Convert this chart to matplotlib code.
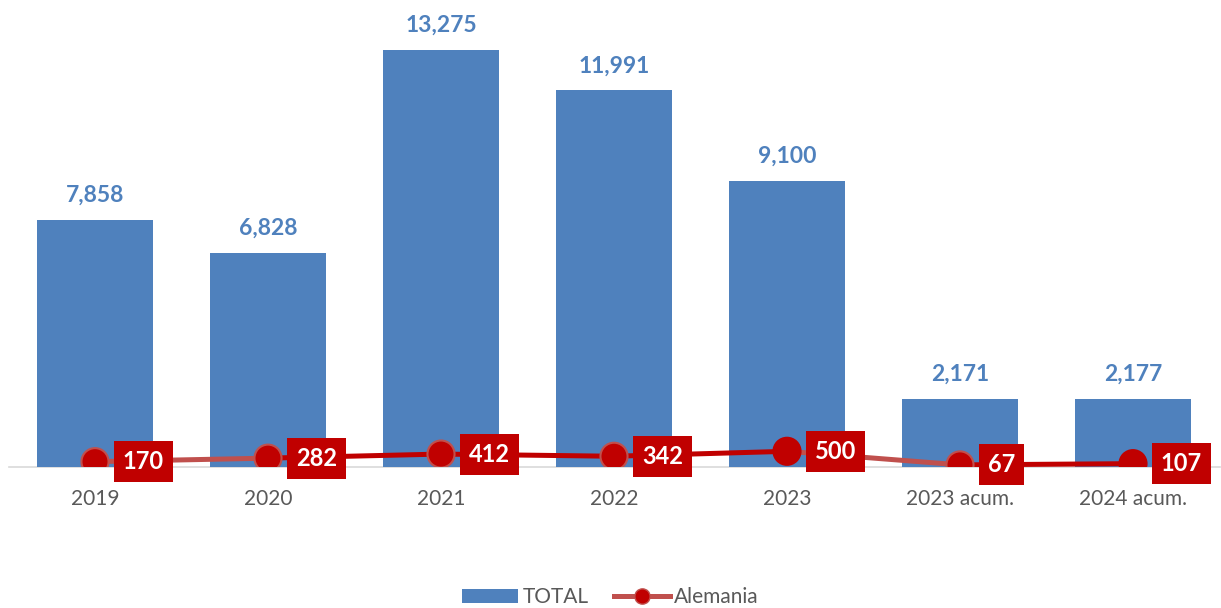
import matplotlib.pyplot as plt
import numpy as np
from matplotlib.lines import Line2D
from matplotlib.patches import Patch

plt.rcParams["font.family"] = ["Lato", "DejaVu Sans"]

categories = ["2019", "2020", "2021", "2022", "2023", "2023 acum.", "2024 acum."]
total = [7858, 6828, 13275, 11991, 9100, 2171, 2177]
alemania = [170, 282, 412, 342, 500, 67, 107]

# per-point formatting as in the original workbook
segment_colors = ["#c0504d", "#c00000", "#c00000", "#c00000", "#c0504d", "#c00000"]
marker_edges = ["#c0504d", "#c0504d", "#c0504d", "#c0504d", "#c00000", "#c0504d", "#c00000"]

BAR_BLUE = "#4f81bd"
DARK_RED = "#c00000"
LIGHT_RED = "#c0504d"
GRAY_TEXT = "#595959"


def main() -> None:
    fig = plt.figure(figsize=(12.21, 6.08), dpi=100)
    ax = fig.add_axes([8.5 / 1221, 141 / 608, 1211 / 1221, 439.8 / 608])

    x = np.arange(len(categories))
    ax.bar(x, total, width=0.67, color=BAR_BLUE, zorder=2)

    for xi, val in zip(x, total):
        ax.annotate(f"{val:,}", (xi, val), xytext=(0, 13), textcoords="offset points",
                    ha="center", va="baseline", fontsize=16.5, fontweight="bold",
                    color=BAR_BLUE)

    for i in range(len(x) - 1):
        ax.plot(x[i:i + 2], alemania[i:i + 2], color=segment_colors[i], linewidth=3.6,
                solid_capstyle="butt", zorder=3)
    ax.scatter(x, alemania, s=380, color=DARK_RED, edgecolors=marker_edges,
               linewidths=1.5, zorder=4)

    for xi, val in zip(x, alemania):
        ax.annotate(f"{val}", (xi, val), xytext=(20, 0), textcoords="offset points",
                    ha="left", va="center", fontsize=17, fontweight="bold", color="white",
                    bbox=dict(boxstyle="square,pad=0.38", facecolor=DARK_RED, edgecolor="none"),
                    zorder=5)

    ax.set_xlim(-0.5, len(categories) - 0.5)
    ax.set_ylim(0, 14000)
    ax.set_xticks(x)
    ax.set_xticklabels(categories, fontsize=15, color=GRAY_TEXT)
    ax.tick_params(axis="x", length=0, pad=16)
    ax.set_yticks([])
    for side in ["top", "left", "right"]:
        ax.spines[side].set_visible(False)
    ax.spines["bottom"].set_color("#d9d9d9")
    ax.spines["bottom"].set_linewidth(1.2)
    ax.spines["bottom"].set_zorder(1)

    handles = [
        Patch(facecolor=BAR_BLUE, edgecolor="none", label="TOTAL"),
        Line2D([0], [0], color=LIGHT_RED, linewidth=3.6, marker="o", markersize=11,
               markerfacecolor=DARK_RED, markeredgecolor=LIGHT_RED, label="Alemania"),
    ]
    fig.legend(handles=handles, loc="lower center", bbox_to_anchor=(0.5, -0.03), ncol=2,
               frameon=False, fontsize=15, labelcolor=GRAY_TEXT, handlelength=2.7,
               handletextpad=0.2, columnspacing=1.2)

    fig.savefig("out.png", dpi=100)
    plt.close(fig)


if __name__ == "__main__":
    main()
